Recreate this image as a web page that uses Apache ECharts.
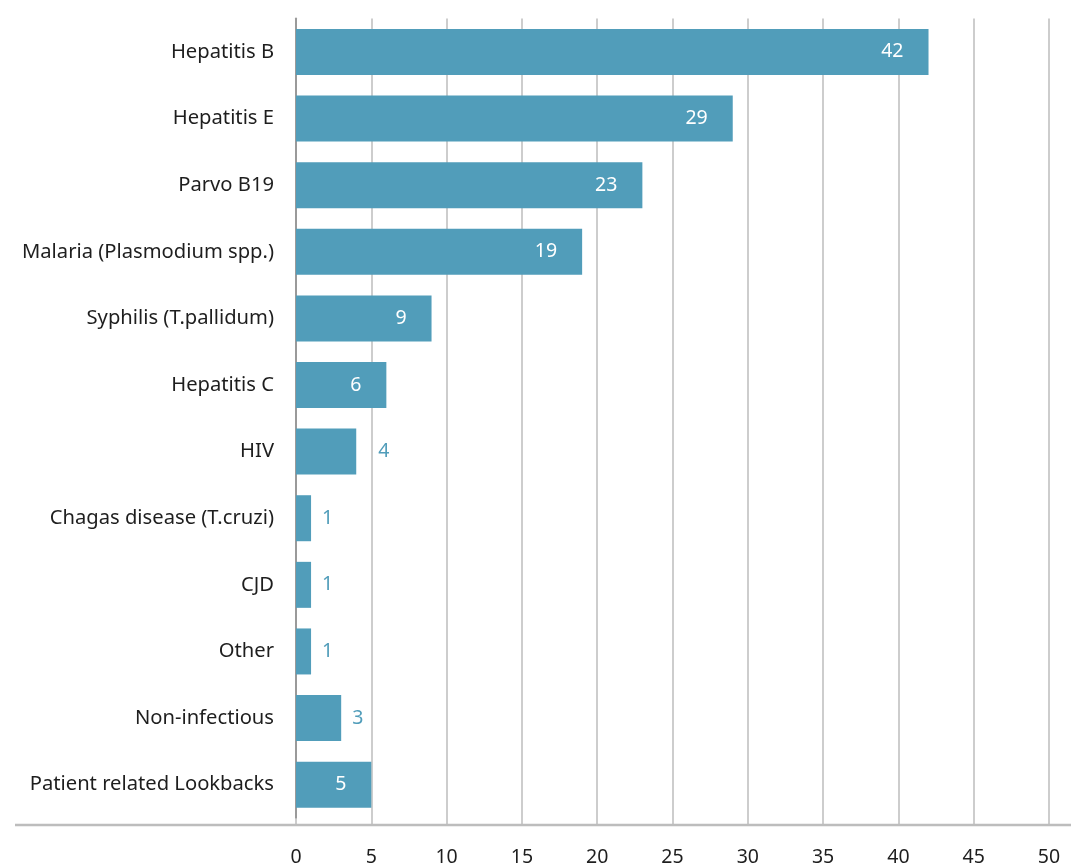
<!DOCTYPE html>
<html>
<head>
<meta charset="utf-8">
<script src="https://cdn.jsdelivr.net/npm/echarts@6/dist/echarts.min.js"></script>
<style>
  html, body { margin: 0; padding: 0; background: #fff; }
  #chart { width: 1071px; height: 867px; }
</style>
</head>
<body>
<div id="chart"></div>
<script>
// Reported cases by cause, listed top to bottom
const categories = [
  'Hepatitis B',
  'Hepatitis E',
  'Parvo B19',
  'Malaria (Plasmodium spp.)',
  'Syphilis (T.pallidum)',
  'Hepatitis C',
  'HIV',
  'Chagas disease (T.cruzi)',
  'CJD',
  'Other',
  'Non-infectious',
  'Patient related Lookbacks'
];
const counts = [42, 29, 23, 19, 9, 6, 4, 1, 1, 1, 3, 5];
const xTicks = [0, 5, 10, 15, 20, 25, 30, 35, 40, 45, 50];

const BAR = '#519dba';
const FONT = 'Noto Sans';

// Counts of 5 or more carry a white label inside the bar; smaller ones sit outside
const barData = counts.map(v => ({
  value: v,
  label: v >= 5
    ? { position: 'insideRight', distance: 25, color: '#ffffff' }
    : { position: 'right', distance: v >= 4 ? 22 : 11, color: BAR }
}));

const chart = echarts.init(document.getElementById('chart'), null, { renderer: 'canvas' });
chart.setOption({
  animation: false,
  backgroundColor: '#ffffff',
  grid: { left: 296, right: 22, top: 18.6, bottom: 48.4, containLabel: false },
  xAxis: {
    type: 'value',
    min: xTicks[0],
    max: xTicks[xTicks.length - 1],
    interval: xTicks[1] - xTicks[0],
    axisLine: { show: false },
    axisTick: { show: true, length: 6.5, lineStyle: { color: '#bdbdbd', width: 1.5 } },
    splitLine: { show: true, lineStyle: { color: '#bdbdbd', width: 1.5 } },
    axisLabel: { margin: 29, color: '#1e1e1e', fontFamily: FONT, fontSize: 19.5 }
  },
  yAxis: {
    type: 'category',
    data: categories,
    inverse: true,
    axisLine: { show: true, lineStyle: { color: '#9a9a9a', width: 2 } },
    axisTick: { show: false },
    splitLine: { show: false },
    axisLabel: { margin: 22, color: '#1e1e1e', fontFamily: FONT, fontSize: 20.2 }
  },
  series: [{
    type: 'bar',
    data: barData,
    barWidth: 46,
    itemStyle: { color: BAR },
    label: { show: true, fontFamily: FONT, fontSize: 19.5 }
  }],
  graphic: [{
    type: 'line',
    shape: { x1: 15, y1: 825, x2: 1071, y2: 825 },
    style: { stroke: '#bdbdbd', lineWidth: 2.5 },
    z: 10
  }]
});
</script>
</body>
</html>
